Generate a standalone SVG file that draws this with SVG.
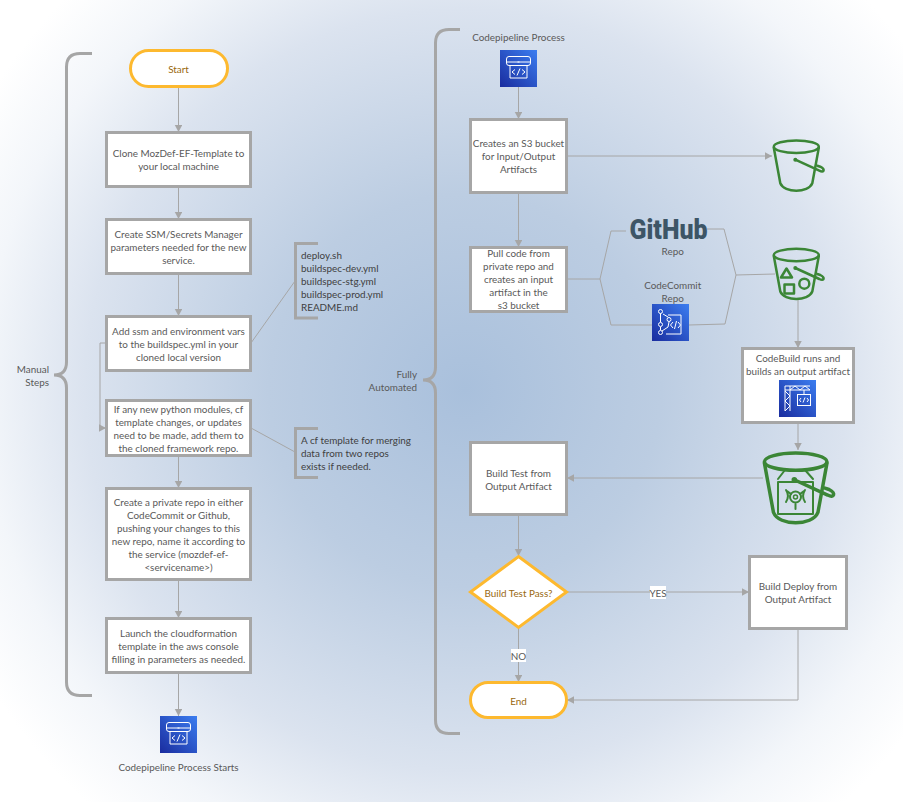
<svg xmlns="http://www.w3.org/2000/svg" xmlns:xlink="http://www.w3.org/1999/xlink" width="903" height="802" viewBox="0 0 903 802">
<style>
text{font-family:"Lato","Carlito","Open Sans",sans-serif;font-size:9.9px;fill:#595959;text-anchor:middle}
.l{text-anchor:start}.r{text-anchor:end}
.o{fill:#99680f}
.d{fill:#404040}
.box{fill:#fff;stroke:#a6a6a6;stroke-width:3}
.key{fill:#fff;stroke:#fdb92f;stroke-width:3}
.br{fill:none;stroke:#a6a6a6;stroke-width:3}
.c{fill:none;stroke:#a6a6a6;stroke-width:1}
.a{marker-end:url(#arr)}
.ic{fill:none;stroke:#fff;stroke-width:1}
.bk{fill:none;stroke:#3b8636;stroke-width:2.5;stroke-linejoin:round;stroke-linecap:round}
</style>
<defs>
<radialGradient id="bg" gradientUnits="userSpaceOnUse" cx="465" cy="390" r="560">
<stop offset="0" stop-color="#a9c0dc"/>
<stop offset="0.35" stop-color="#bccde2"/>
<stop offset="0.68" stop-color="#dbe3ef"/>
<stop offset="0.86" stop-color="#f3f6fa"/>
<stop offset="1" stop-color="#ffffff"/>
</radialGradient>
<linearGradient id="aws" x1="0" y1="1" x2="1" y2="0">
<stop offset="0" stop-color="#1a2c9e"/>
<stop offset="1" stop-color="#3b7df0"/>
</linearGradient>
<marker id="arr" markerUnits="userSpaceOnUse" markerWidth="8" markerHeight="8" refX="7" refY="3.75" orient="auto">
<path d="M0,0L7,3.75L0,7.5Z" fill="#a6a6a6"/>
</marker>
<g id="pipe">
<rect width="37" height="37" fill="url(#aws)"/>
<rect class="ic" x="6.500" y="6.500" width="24" height="9" rx="2.500"/>
<path class="ic" d="M6.500,12H30.500M17.500,12h2M10,15.500V28H27V15.500"/>
<path class="ic" d="M15,19.500L12,22L15,24.500M22,19.500L25,22L22,24.500M20,18.500L17,25.500"/>
</g>
<g id="bucket">
<ellipse class="bk" cx="0" cy="0" rx="22.500" ry="6.200"/>
<path class="bk" d="M-22.500,1L-16,36.500C-12,46.500 12,46.500 16,36.500L22.500,1"/>
<path class="bk" d="M-1,13L23,24C28,26.500 29,22.500 24,20L21,19"/>
<circle cx="-1" cy="13" r="2" fill="#3b8636"/>
</g>
</defs>
<rect width="903" height="802" fill="url(#bg)"/>

<g id="connectors">
<path class="c a" d="M178.500,87V132"/>
<path class="c a" d="M178.500,187V219"/>
<path class="c a" d="M178.500,274V316"/>
<path class="c a" d="M178.500,456V488"/>
<path class="c a" d="M178.500,580V618"/>
<path class="c a" d="M178.500,673V716"/>
<path class="c a" d="M106,343H100V428H106"/>
<path class="c" d="M251,343L295,281"/>
<path class="c" d="M251,428L295,452"/>
<path class="c a" d="M518.500,87V119"/>
<path class="c a" d="M518.500,193V247"/>
<path class="c a" d="M567,156H772"/>
<path class="c" d="M567,279H600L611,231H626"/>
<path class="c" d="M600,279L611,325H652"/>
<path class="c" d="M707,229L724,229L736,275L775,274"/>
<path class="c" d="M689,325L725,324L736,275"/>
<path class="c a" d="M798,300V348"/>
<path class="c a" d="M798,423V450"/>
<path class="c a" d="M763,478H567"/>
<path class="c a" d="M518.500,515V556"/>
<path class="c a" d="M518.500,628V682"/>
<path class="c a" d="M567,592H749"/>
<path class="c a" d="M798,629V700H567"/>
</g>

<g id="brace-manual"><path class="br" d="M92,53.500H80Q66.500,53.500 66.500,67V362Q66.500,375 54,375Q66.500,375 66.500,388V682Q66.500,695.500 80,695.500H92"/><text class="r" x="49" y="373">Manual</text><text class="r" x="49" y="385.500">Steps</text></g>
<g id="brace-auto"><path class="br" d="M460,29.500H449Q435.500,29.500 435.500,43V367Q435.500,380 423,380Q435.500,380 435.500,393V720Q435.500,733.500 449,733.500H460"/><text class="r" x="417" y="378">Fully</text><text class="r" x="417" y="391">Automated</text></g>

<g id="start"><rect class="key" x="130.500" y="50.500" width="97" height="36" rx="18"/><text class="o" x="178.500" y="73">Start</text></g>
<g id="clone"><rect class="box" x="106.500" y="132.500" width="144" height="54"/><text x="178.500" y="157">Clone MozDef-EF-Template to</text><text x="178.500" y="170">your local machine</text></g>
<g id="ssm"><rect class="box" x="106.500" y="219.500" width="144" height="54"/><text x="178.500" y="238">Create SSM/Secrets Manager</text><text x="178.500" y="251">parameters needed for the new</text><text x="178.500" y="264">service.</text></g>
<g id="vars"><rect class="box" x="106.500" y="316.500" width="144" height="54"/><text x="178.500" y="335">Add ssm and environment vars</text><text x="178.500" y="348">to the buildspec.yml in your</text><text x="178.500" y="361">cloned local version</text></g>
<g id="modules"><rect class="box" x="106.500" y="400.500" width="144" height="55"/><text x="178.500" y="413">If any new python modules, cf</text><text x="178.500" y="426">template changes, or updates</text><text x="178.500" y="439">need to be made, add them to</text><text x="178.500" y="452">the cloned framework repo.</text></g>
<g id="repo"><rect class="box" x="106.500" y="488.500" width="144" height="91"/><text x="178.500" y="506">Create a private repo in either</text><text x="178.500" y="519">CodeCommit or Github,</text><text x="178.500" y="532">pushing your changes to this</text><text x="178.500" y="545">new repo, name it according to</text><text x="178.500" y="558">the service (mozdef-ef-</text><text x="178.500" y="571">&lt;servicename&gt;)</text></g>
<g id="launch"><rect class="box" x="106.500" y="618.500" width="144" height="54"/><text x="178.500" y="637">Launch the cloudformation</text><text x="178.500" y="650">template in the aws console</text><text x="178.500" y="663">filling in parameters as needed.</text></g>
<g id="pipeline-starts"><use xlink:href="#pipe" href="#pipe" x="160" y="716"/><text x="178.500" y="771">Codepipeline Process Starts</text></g>

<g id="files"><path class="br" d="M318,243.500H295.500V318H318"/><text class="l d" x="301" y="259">deploy.sh</text><text class="l d" x="301" y="272">buildspec-dev.yml</text><text class="l d" x="301" y="285">buildspec-stg.yml</text><text class="l d" x="301" y="298">buildspec-prod.yml</text><text class="l d" x="301" y="311">README.md</text></g>
<g id="note"><path class="br" d="M318,428.500H295.500V477.500H318"/><text class="l d" x="301" y="444">A cf template for merging</text><text class="l d" x="301" y="457">data from two repos</text><text class="l d" x="301" y="470">exists if needed.</text></g>

<g id="pipeline"><text x="518.500" y="41">Codepipeline Process</text><use xlink:href="#pipe" href="#pipe" x="500" y="50"/></g>
<g id="create-bucket"><rect class="box" x="470.500" y="119.500" width="96" height="73"/><text x="518.500" y="147">Creates an S3 bucket</text><text x="518.500" y="160">for Input/Output</text><text x="518.500" y="173">Artifacts</text></g>
<g id="pull"><rect class="box" x="470.500" y="247.500" width="96" height="64"/><text x="518.500" y="257">Pull code from</text><text x="518.500" y="270">private repo and</text><text x="518.500" y="283">creates an input</text><text x="518.500" y="296">artifact in the</text><text x="518.500" y="309">s3 bucket</text></g>
<g id="github"><text x="668.500" y="239" style="font-family:'Roboto',sans-serif;font-weight:900;font-size:28px;fill:#3d5566" textLength="78" lengthAdjust="spacingAndGlyphs">GitHub</text><text x="672.700" y="255">Repo</text></g>
<g id="codecommit"><text x="672.700" y="289">CodeCommit</text><text x="672.700" y="302">Repo</text>
<rect x="652" y="304" width="37" height="37" fill="url(#aws)"/>
<path class="ic" d="M660.500,313.500V322M660.500,327V330M663,314L668,317M669,322L668,327L662,331M668,315H681V334H666"/>
<circle class="ic" cx="660.500" cy="311.500" r="2"/><circle class="ic" cx="660.500" cy="324.500" r="2"/><circle class="ic" cx="660.500" cy="332.500" r="2"/><circle class="ic" cx="669" cy="319.500" r="2"/>
<path class="ic" d="M673,322L670.500,325L673,328M678,322L680.500,325L678,328M676.500,321L674.500,329"/></g>
<g id="bucket-1"><use xlink:href="#bucket" href="#bucket" transform="translate(796.300,146.700)"/></g>
<g id="bucket-2"><use xlink:href="#bucket" href="#bucket" transform="translate(796.300,255)"/>
<path class="bk" d="M786.500,268.500L792,277.500H781Z"/><rect class="bk" x="784.500" y="284.500" width="9.500" height="9"/><circle class="bk" cx="804.300" cy="283.700" r="5"/></g>
<g id="codebuild"><rect class="box" x="742.500" y="348.500" width="111" height="74"/><text x="798" y="362">CodeBuild runs and</text><text x="798" y="375">builds an output artifact</text>
<rect x="779" y="380" width="37" height="37" fill="url(#aws)"/>
<path class="ic" d="M785,386H810M785,390H810M785,386V411M790,386V411M785,391L790,396L785,401L790,406L785,411M790,390L795,386L800,390L805,386L810,390M804,390V394"/>
<rect class="ic" x="797.500" y="394.500" width="13" height="11"/>
<path class="ic" d="M801,398L799.500,400L801,402M807,398L808.500,400L807,402M805,397.500L803,402.500"/></g>
<g id="bucket-3"><g transform="translate(795.700,461.700) scale(1.39)"><use xlink:href="#bucket" href="#bucket"/></g>
<path class="bk" d="M778,479L785,470H805L813,479" style="stroke-width:2"/><rect class="bk" x="778" y="482" width="35" height="32" style="stroke-width:2"/>
<path class="bk" d="M786,490A11,11 0 0 1 786,502M805,490A11,11 0 0 0 805,502M795.500,504V509M787,491L791,494M804,491L800,494" style="stroke-width:2"/><circle class="bk" cx="795.500" cy="497" r="5.500" style="stroke-width:2"/><circle class="bk" cx="795.500" cy="497" r="2" style="stroke-width:1.500"/></g>
<g id="build-test"><rect class="box" x="470.500" y="442.500" width="96" height="72"/><text x="518.500" y="477">Build Test from</text><text x="518.500" y="490">Output Artifact</text></g>
<g id="decision"><path class="key" d="M518.500,556.500L566.500,592L518.500,627.500L470.500,592Z"/><text class="o" x="518.500" y="597">Build Test Pass?</text></g>
<g id="deploy"><rect class="box" x="749.500" y="556.500" width="97" height="72"/><text x="798" y="590">Build Deploy from</text><text x="798" y="603">Output Artifact</text></g>
<g id="end"><rect class="key" x="470.500" y="682.500" width="96" height="35" rx="17.500"/><text class="o" x="518.500" y="705">End</text></g>
<g id="labels"><rect x="650" y="586" width="16" height="13" fill="#fff"/><text x="658" y="597">YES</text><rect x="511" y="649" width="15" height="13" fill="#fff"/><text x="518.500" y="660">NO</text></g>
</svg>
